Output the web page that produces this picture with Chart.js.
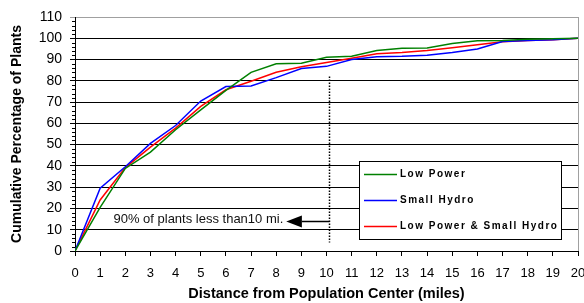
<!DOCTYPE html>
<html>
<head>
<meta charset="utf-8">
<title>Cumulative Percentage of Plants</title>
<script src="https://cdn.jsdelivr.net/npm/chart.js@4.4.0/dist/chart.umd.min.js"></script>
<style>
  html, body { margin: 0; padding: 0; background: #fff; }
  #wrap { width: 584px; height: 303px; }
</style>
</head>
<body>
<div id="wrap"><canvas id="chart" width="584" height="303"></canvas></div>
<script>
// data
var miles = [0, 1, 2, 3, 4, 5, 6, 7, 8, 9, 10, 11, 12, 13, 14, 15, 16, 17, 18, 19, 20];
var lowPower = [0, 20.5, 38.8, 46.5, 57, 66.3, 75.5, 84, 88, 88.3, 91.1, 91.5, 94.2, 95.3, 95.4, 97.5, 98.8, 99, 99.5, 99.8, 100];
var smallHydro = [0, 29.5, 39.6, 50.6, 59, 70.5, 77.3, 77.6, 81.5, 85.8, 86.8, 90, 91.3, 91.5, 92, 93.3, 95, 98.5, 98.9, 99.3, 100];
var combined = [0, 24, 39.2, 48.8, 57.8, 68, 75.8, 79.8, 84, 86.6, 88.6, 90.6, 92.7, 93.3, 94.2, 95.6, 97, 98.4, 98.9, 99.3, 100];
var seriesNames = ["Low Power", "Small Hydro", "Low Power & Small Hydro"];
var seriesColors = ["#008000", "#0000ff", "#ff0000"];
var noteText = "90% of plants less than10 mi.";
var noteMiles = 10.1;

var FONT = "'Liberation Sans', Arial, sans-serif";

function toPoints(vals) {
  var pts = [];
  for (var i = 0; i < miles.length; i++) {
    pts.push({ x: miles[i], y: vals[i] });
  }
  return pts;
}

var allSeries = [lowPower, smallHydro, combined];
var datasets = [];
for (var i = 0; i < allSeries.length; i++) {
  datasets.push({
    label: seriesNames[i],
    data: toPoints(allSeries[i]),
    borderColor: seriesColors[i],
    backgroundColor: seriesColors[i],
    borderWidth: 1.5,
    pointRadius: 0,
    tension: 0,
    fill: false
  });
}

// minor ticks, borders, annotation and the boxed legend
var extras = {
  id: "extras",
  afterDraw: function(chart) {
    var ctx = chart.ctx;
    var xs = chart.scales.x;
    var ys = chart.scales.y;
    var a = chart.chartArea;
    ctx.save();

    // right border
    ctx.strokeStyle = "#a0a0a0";
    ctx.lineWidth = 1;
    ctx.beginPath();
    ctx.moveTo(Math.round(a.right) + 0.5, a.top);
    ctx.lineTo(Math.round(a.right) + 0.5, a.bottom);
    ctx.stroke();

    // minor ticks on the y axis
    ctx.strokeStyle = "#000";
    ctx.beginPath();
    for (var v = 2; v < 110; v += 2) {
      if (v % 10 === 0) continue;
      var py = Math.round(ys.getPixelForValue(v)) + 0.5;
      ctx.moveTo(a.left - 3, py);
      ctx.lineTo(a.left, py);
    }
    ctx.stroke();

    // dotted line at 10 miles
    var dx = Math.round(xs.getPixelForValue(noteMiles)) + 0.5;
    ctx.setLineDash([1.5, 1.5]);
    ctx.lineWidth = 1.5;
    ctx.beginPath();
    ctx.moveTo(dx, ys.getPixelForValue(82));
    ctx.lineTo(dx, ys.getPixelForValue(4));
    ctx.stroke();
    ctx.setLineDash([]);

    // arrow
    var ay = Math.round(ys.getPixelForValue(14)) + 0.5;
    var tip = xs.getPixelForValue(8.4);
    var base = xs.getPixelForValue(9.02);
    ctx.lineWidth = 1.5;
    ctx.beginPath();
    ctx.moveTo(dx, ay);
    ctx.lineTo(base, ay);
    ctx.stroke();
    ctx.fillStyle = "#000";
    ctx.beginPath();
    ctx.moveTo(tip, ay);
    ctx.lineTo(base, ay - 6);
    ctx.lineTo(base, ay + 6);
    ctx.closePath();
    ctx.fill();

    ctx.font = "13px " + FONT;
    ctx.textAlign = "right";
    ctx.textBaseline = "middle";
    ctx.fillStyle = "#111";
    ctx.fillText(noteText, xs.getPixelForValue(8.28), ys.getPixelForValue(14.7));

    // legend box
    var lx = 359.5, ly = 161.5, lw = 202, lh = 78;
    ctx.fillStyle = "#fff";
    ctx.fillRect(lx, ly, lw, lh);
    ctx.strokeStyle = "#000";
    ctx.lineWidth = 1;
    ctx.strokeRect(lx, ly, lw, lh);
    var rows = [174.5, 200.5, 226.5];
    ctx.font = "bold 10px " + FONT;
    ctx.letterSpacing = "1.5px";
    ctx.textAlign = "left";
    ctx.textBaseline = "middle";
    chart.data.datasets.forEach(function(ds, k) {
      ctx.strokeStyle = ds.borderColor;
      ctx.lineWidth = 1.4;
      ctx.beginPath();
      ctx.moveTo(364, rows[k]);
      ctx.lineTo(397, rows[k]);
      ctx.stroke();
      ctx.fillStyle = "#000";
      ctx.fillText(ds.label, 400, rows[k]);
    });
    ctx.restore();
  }
};

var ctx = document.getElementById("chart").getContext("2d");
var chart = new Chart(ctx, {
  type: "line",
  data: { datasets: datasets },
  plugins: [extras],
  options: {
    responsive: false,
    animation: false,
    devicePixelRatio: 1,
    layout: { padding: { top: 17, right: 6, left: 0, bottom: 0 } },
    plugins: {
      legend: { display: false },
      tooltip: { enabled: false }
    },
    scales: {
      x: {
        type: "linear",
        min: 0,
        max: 20,
        ticks: {
          stepSize: 1,
          autoSkip: false,
          maxRotation: 0,
          color: "#000",
          padding: 10,
          font: { family: FONT, size: 13 }
        },
        grid: { drawOnChartArea: false, drawTicks: true, tickLength: 5, color: "#000" },
        border: { color: "#000", width: 1 },
        title: {
          display: true,
          text: "Distance from Population Center (miles)",
          color: "#000",
          font: { family: FONT, size: 14.5, weight: "bold" },
          padding: { top: 0, bottom: 0 }
        },
        afterFit: function(s) {
          s.height = 52;
          s.paddingLeft = 0;
          s.paddingRight = 0;
        }
      },
      y: {
        min: 0,
        max: 110,
        ticks: {
          stepSize: 10,
          color: "#000",
          padding: 8,
          font: { family: FONT, size: 14 }
        },
        grid: {
          tickLength: 5,
          color: function(c) { return c.tick && c.tick.value === 110 ? "#a0a0a0" : "#000"; }
        },
        border: { color: "#000", width: 1 },
        title: {
          display: true,
          text: "Cumulative Percentage of Plants",
          color: "#000",
          font: { family: FONT, size: 14, weight: "bold" },
          padding: { top: 9, bottom: 0 }
        },
        afterFit: function(s) {
          s.width = 75;
          s.paddingTop = 0;
          s.paddingBottom = 0;
        }
      }
    }
  }
});
</script>
</body>
</html>
